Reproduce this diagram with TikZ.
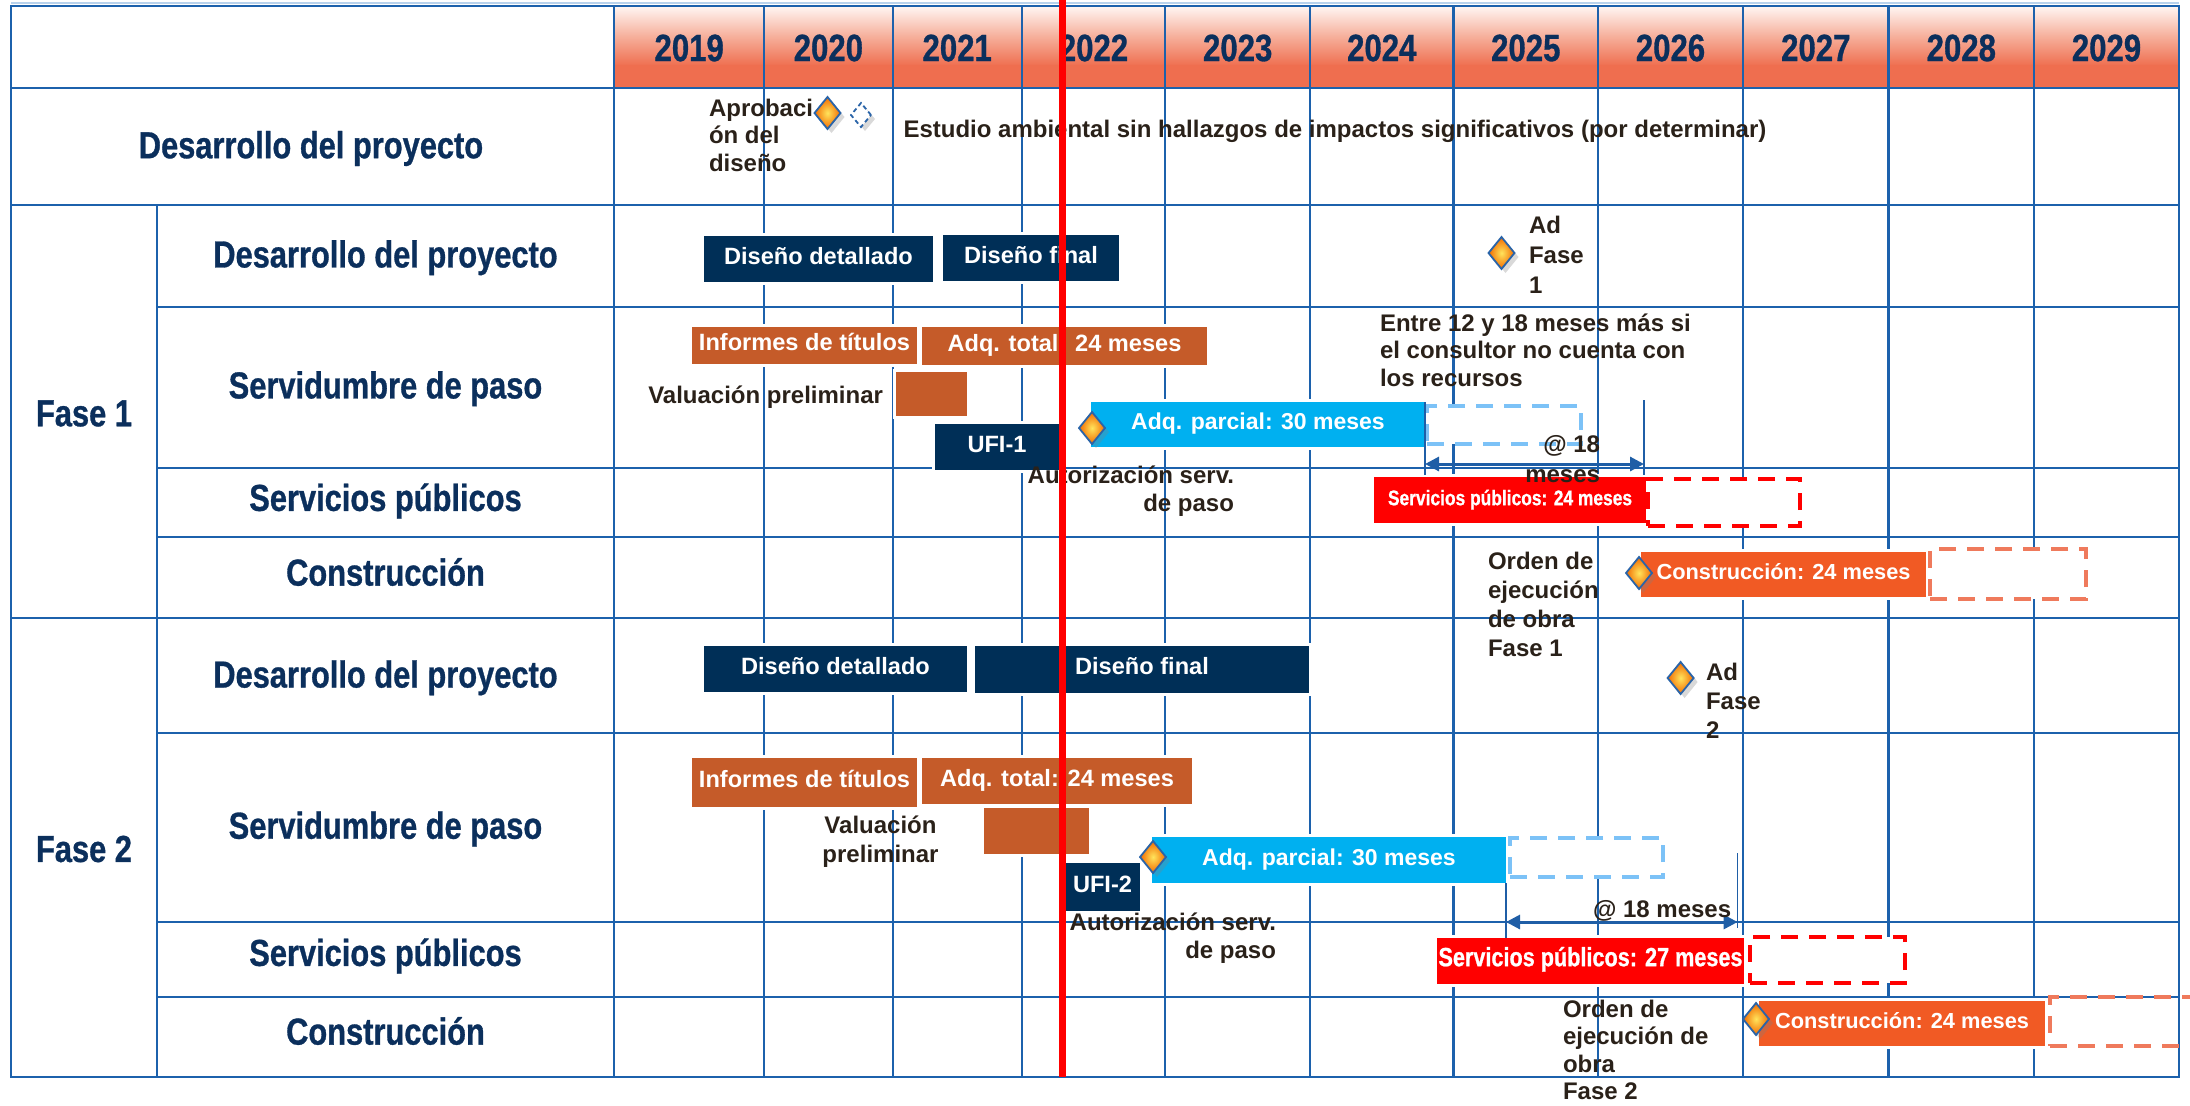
\documentclass[tikz,border=0pt]{standalone}
\usepackage{fontspec}
\setmainfont{Liberation Sans}
\newfontfamily\narrowf[FakeStretch=0.82,FakeBold=0.8]{Liberation Sans}
\usetikzlibrary{shapes.geometric,shadows,arrows.meta}
\definecolor{gridblue}{HTML}{1C61AC}
\definecolor{hdrT}{HTML}{FFF6F3}
\definecolor{hdrM}{HTML}{F6B09C}
\definecolor{hdrB}{HTML}{EF6E4F}
\definecolor{labnavy}{HTML}{0B2F5C}
\definecolor{anntext}{HTML}{2A2119}
\definecolor{barnavy}{HTML}{002F57}
\definecolor{barbrown}{HTML}{C55B29}
\definecolor{barcyan}{HTML}{00B0F0}
\definecolor{barred}{HTML}{FF0000}
\definecolor{barorange}{HTML}{F15A24}
\definecolor{dashblue}{HTML}{7CC2F7}
\definecolor{dashsalmon}{HTML}{EF7A5C}
\definecolor{msblue}{HTML}{2A64A8}
\definecolor{msin}{HTML}{FFE45C}
\definecolor{msout}{HTML}{F26A00}
\definecolor{arrowblue}{HTML}{1F5EA6}
\definecolor{toplight}{HTML}{B8D2EC}
\newcommand\spsmall{\narrowf\bfseries\fontsize{10.6}{12}\selectfont}
\newcommand\splarge{\narrowf\bfseries\fontsize{13.2}{15}\selectfont}
\newcommand\barmid{\bfseries\fontsize{11.5}{13}\selectfont}
\newcommand\barsmall{\bfseries\fontsize{10.9}{12}\selectfont}
% name, x1, y1, x2, y2, style, text (pixel units)
\newcommand\gbarnode[7]{%
  \fill[white] ({#2-3},{#3-3}) rectangle ({#4+3},{#5+3});
  \node[#6, minimum width={(#4-#2)*0.5pt}, minimum height={(#5-#3)*0.5pt}] (#1) at ({(#2+#4)/2},{(#3+#5)/2}) {#7};}
\newcommand\dboxnode[6]{%
  \node[dbox, draw=#6, minimum width={(#4-#2)*0.5pt}, minimum height={(#5-#3)*0.5pt}] (#1) at ({(#2+#4)/2},{(#3+#5)/2}) {};}
\tikzset{
  every node/.style={inner sep=0pt, outer sep=0pt},
  lbl/.style={text=labnavy, font=\narrowf\bfseries\fontsize{18.8}{22}\selectfont},
  yr/.style={text=labnavy, font=\narrowf\bfseries\fontsize{19}{22}\selectfont},
  ann/.style={text=anntext, font=\bfseries\fontsize{12}{14}\selectfont},
  gbar/.style={rectangle, text=white, text height=0.72em, text depth=0.2em, font=\bfseries\fontsize{11.8}{13}\selectfont},
  navybar/.style={gbar, fill=barnavy},
  brownbar/.style={gbar, fill=barbrown},
  cyanbar/.style={gbar, fill=barcyan, font=\barmid},
  redbar/.style={gbar, fill=barred},
  constbar/.style={gbar, fill=barorange, font=\barsmall},
  ms/.style={diamond, minimum width=13pt, minimum height=16pt, draw=msblue, line width=0.9pt, inner color=msin, outer color=msout, drop shadow={shadow xshift=2pt, shadow yshift=-2pt, opacity=0.3}},
  msd/.style={diamond, minimum width=10pt, minimum height=12pt, draw=msblue, line width=0.9pt, dash pattern=on 2.2pt off 1.6pt, fill=white, drop shadow={shadow xshift=2pt, shadow yshift=-2pt, opacity=0.3}},
  dbox/.style={rectangle, line width=1.8pt, dash pattern=on 8.5pt off 5.5pt, fill=white},
  gridh/.style={draw=gridblue, line width=1.4pt, line cap=rect},
  gridv/.style={draw=gridblue, line width=1.1pt, line cap=rect},
  thinv/.style={draw=arrowblue, line width=0.7pt},
  spanarr/.style={draw=arrowblue, line width=1.5pt, {Triangle[length=7pt,width=7pt]}-{Triangle[length=7pt,width=7pt]}},
  redline/.style={draw=barred, line width=3.5pt}
}
\begin{document}
\begin{tikzpicture}[x=0.5pt,y=-0.5pt]
\useasboundingbox (0,0) rectangle (2190,1105);
% header shading
\fill[top color=hdrT, bottom color=hdrB, middle color=hdrM] (614.3,6) rectangle (2179,66);
\fill[hdrB] (614.3,65) rectangle (2179,88);
\draw[toplight, line width=0.6pt] (11,3) -- (2179,3);
% grid
\foreach \yy in {6,88,205,618,1077} \draw[gridh] (11,\yy) -- (2179,\yy);
\foreach \yy in {307,468,537,733,922,997} \draw[gridh] (157,\yy) -- (2179,\yy);
\draw[gridv] (11,6) -- (11,1077);
\draw[gridv] (157,205) -- (157,1077);
\foreach \xx in {614.3,764,892.7,1021.7,1165.3,1310,1453.5,1598,1743,1888.5,2034,2179} \draw[gridv] (\xx,6) -- (\xx,1077);
% years
\foreach \xx/\tt in {689.2/2019,828.4/2020,957.2/2021,1093.5/2022,1237.7/2023,1381.8/2024,1525.8/2025,1670.5/2026,1815.8/2027,1961.3/2028,2106.5/2029}
  \node[yr] (y\tt) at (\xx,48) {\tt};
% row labels
\node[lbl] (hdp) at (311,148.5) {Desarrollo del proyecto};
\node[lbl] (fase1) at (84,413.5) {Fase 1};
\node[lbl] (fase2) at (84,849) {Fase 2};
\node[lbl] (r1dp) at (385.5,257.7) {Desarrollo del proyecto};
\node[lbl] (r1sp) at (385.5,388.7) {Servidumbre de paso};
\node[lbl] (r1pub) at (385.5,501) {Servicios públicos};
\node[lbl] (r1co) at (385.5,572) {Construcción};
\node[lbl] (r2dp) at (385.5,677.8) {Desarrollo del proyecto};
\node[lbl] (r2sp) at (385.5,829) {Servidumbre de paso};
\node[lbl] (r2pub) at (385.5,956) {Servicios públicos};
\node[lbl] (r2co) at (385.5,1031) {Construcción};
% bars Fase 1
\gbarnode{b1dd}{704}{236}{933}{282}{navybar}{Diseño detallado}
\gbarnode{b1df}{943}{235}{1119}{281}{navybar}{Diseño final}
\gbarnode{b1it}{692}{327}{917}{364}{brownbar}{Informes de títulos}
\gbarnode{b1at}{922}{327}{1207}{365}{brownbar}{Adq. total: 24 meses}
\gbarnode{b1vp}{896}{372}{967}{416}{brownbar}{}
\gbarnode{b1ufi}{935}{424}{1059}{470}{navybar}{UFI-1}
\gbarnode{b1ap}{1091}{402}{1425}{447}{cyanbar}{Adq. parcial: 30 meses}
\gbarnode{b1sp}{1374}{477}{1646}{523}{redbar,font=\spsmall}{Servicios públicos: 24 meses}
\gbarnode{b1co}{1641}{552}{1926}{597}{constbar}{Construcción: 24 meses}
% bars Fase 2
\gbarnode{b2dd}{704}{646}{967}{692}{navybar}{Diseño detallado}
\gbarnode{b2df}{975}{646}{1309}{693}{navybar}{Diseño final}
\gbarnode{b2it}{692}{758}{917}{807}{brownbar}{Informes de títulos}
\gbarnode{b2at}{922}{758}{1192}{804}{brownbar}{Adq. total: 24 meses}
\gbarnode{b2vp}{984}{808}{1089}{854}{brownbar}{}
\gbarnode{b2ufi}{1065}{863}{1140}{911}{navybar}{UFI-2}
\gbarnode{b2ap}{1152}{837}{1506}{883}{cyanbar}{Adq. parcial: 30 meses}
\gbarnode{b2sp}{1437}{938}{1744}{984}{redbar,font=\splarge}{Servicios públicos: 27 meses}
\gbarnode{b2co}{1759}{1001}{2045}{1046}{constbar}{Construcción: 24 meses}
% dashed extensions
\dboxnode{x1ap}{1427}{406}{1581}{444}{dashblue}
\dboxnode{x1sp}{1648}{479}{1800}{526}{barred}
\dboxnode{x1co}{1930}{549}{2086}{599}{dashsalmon}
\dboxnode{x2ap}{1510}{838}{1663}{877}{dashblue}
\dboxnode{x2sp}{1750}{937}{1905}{983}{barred}
\node[dbox, fill=none, draw=dashsalmon, minimum width=95pt, minimum height=24.5pt] (x2co) at (2145,1021.5) {};
% spans
\coordinate (t1a) at (1425,402); \coordinate (t1b) at (1425,475);
\coordinate (t2a) at (1644,400); \coordinate (t2b) at (1644,475);
\draw[thinv] (t1a) -- (t1b); \draw[thinv] (t2a) -- (t2b);
\coordinate (a1l) at (1425,464); \coordinate (a1r) at (1644,464);
\draw[spanarr] (a1l) -- (a1r);
\coordinate (t3a) at (1506,883); \coordinate (t3b) at (1506,938);
\coordinate (t4a) at (1737.6,853); \coordinate (t4b) at (1737.6,928);
\draw[thinv] (t3a) -- (t3b); \draw[thinv] (t4a) -- (t4b);
\coordinate (a2l) at (1506,922); \coordinate (a2r) at (1737.6,922);
\draw[spanarr] (a2l) -- (a2r);
% annotations
\node[ann, anchor=west, align=left, font=\bfseries\fontsize{12}{13.75}\selectfont] (aprob) at (709,135) {Aprobaci\\ón del\\diseño};
\node[ann, anchor=base west] (estudio) at (903.5,137.7) {Estudio ambiental sin hallazgos de impactos significativos (por determinar)};
\node[ann, anchor=west, align=left, font=\bfseries\fontsize{12}{15}\selectfont] (adf1) at (1529,255) {Ad\\Fase\\1};
\node[ann, anchor=west, align=left, font=\bfseries\fontsize{12}{13.6}\selectfont] (entre) at (1380,350.2) {Entre 12 y 18 meses más si\\el consultor no cuenta con\\los recursos};
\node[ann, anchor=base east] (val1) at (883,403) {Valuación preliminar};
\node[ann, anchor=east, align=right] (aut1) at (1234,491.5) {Autorización serv.\\de paso};
\node[ann, anchor=east, align=right, font=\bfseries\fontsize{12}{15}\selectfont] (at1) at (1600,459) {@ 18\\meses};
\node[ann, anchor=west, align=left, font=\bfseries\fontsize{12}{14.65}\selectfont] (ord1) at (1488,604.4) {Orden de\\ejecución\\de obra\\Fase 1};
\node[ann, anchor=west, align=left, font=\bfseries\fontsize{12}{14.5}\selectfont] (adf2) at (1706,700.5) {Ad\\Fase\\2};
\node[ann, align=center, font=\bfseries\fontsize{12}{14.5}\selectfont] (val2) at (880.5,842) {Valuación\\preliminar};
\node[ann, anchor=east, align=right] (aut2) at (1276,938) {Autorización serv.\\de paso};
\node[ann, anchor=base west] (at2) at (1593,917) {@ 18 meses};
\node[ann, anchor=west, align=left, font=\bfseries\fontsize{12}{13.8}\selectfont] (ord2) at (1563,1050) {Orden de\\ejecución de\\obra\\Fase 2};
% milestones
\node[ms] (m0) at (827.5,113) {};
\node[msd] (m0b) at (861,115) {};
\node[ms] (m1) at (1501.5,253) {};
\node[ms] (m2) at (1092,428) {};
\node[ms] (m3) at (1639,573) {};
\node[ms] (m4) at (1680.6,678) {};
\node[ms] (m5) at (1153,857) {};
\node[ms] (m6) at (1756,1019) {};
% today line
\coordinate (rt) at (1062.7,0); \coordinate (rb) at (1062.7,1077);
\draw[redline] (rt) -- (rb);
\end{tikzpicture}
\end{document}
